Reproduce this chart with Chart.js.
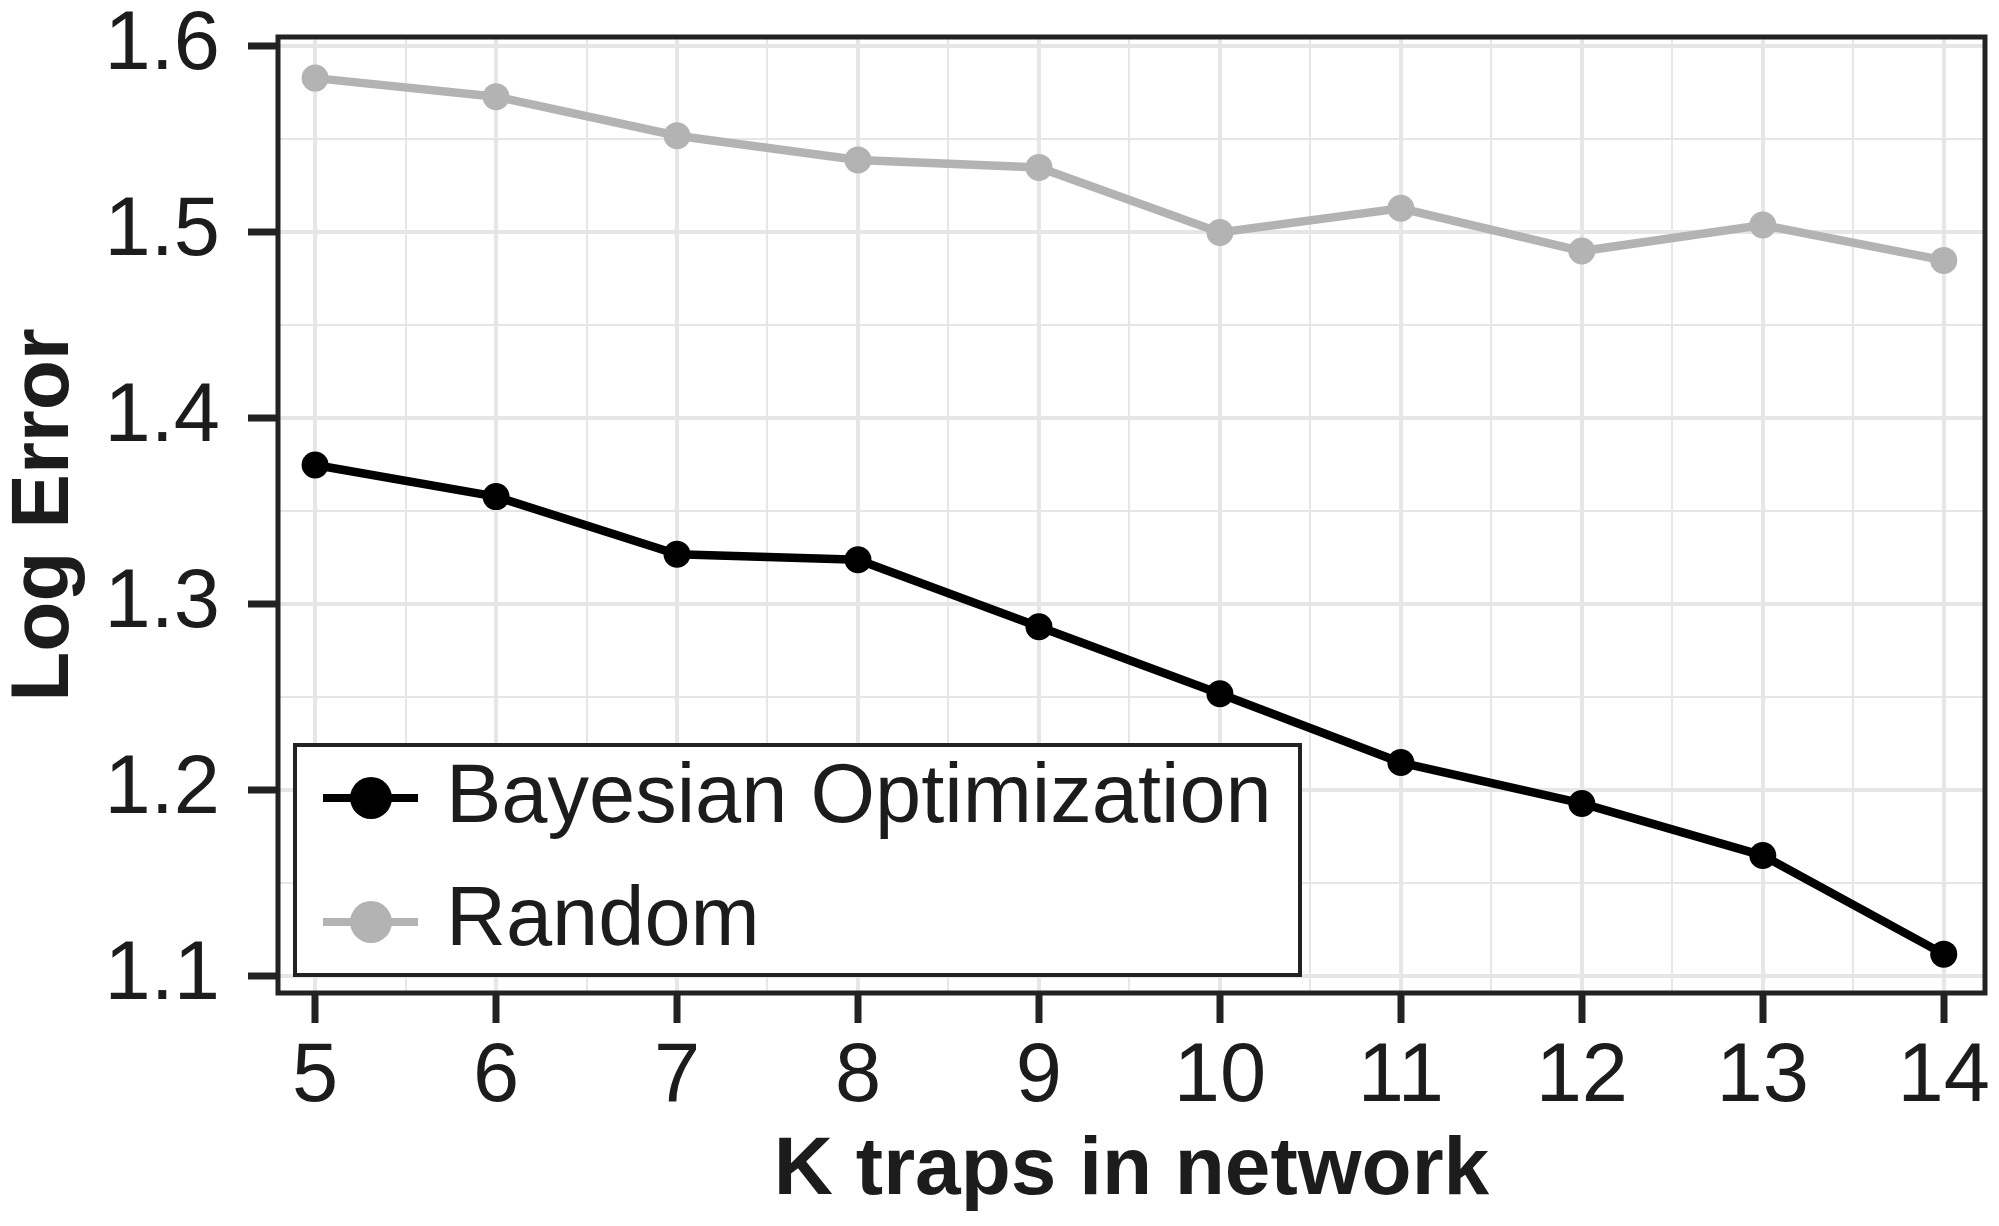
<!DOCTYPE html>
<html><head><meta charset="utf-8">
<script src="https://cdn.jsdelivr.net/npm/chart.js@4.4.0/dist/chart.umd.min.js"></script>
<style>html,body{margin:0;padding:0;background:#fff;} #wrap{width:1999px;height:1226px;}</style>
</head><body><div id="wrap"><canvas id="c" width="1999" height="1226"></canvas></div>
<script>
// ---- data ----
const kTraps = [5, 6, 7, 8, 9, 10, 11, 12, 13, 14];
const bayesian = [1.375, 1.358, 1.327, 1.324, 1.288, 1.252, 1.215, 1.193, 1.165, 1.112];
const random = [1.583, 1.573, 1.552, 1.539, 1.535, 1.500, 1.513, 1.490, 1.504, 1.485];
const yTicks = [1.1, 1.2, 1.3, 1.4, 1.5, 1.6];
const xTicks = [5, 6, 7, 8, 9, 10, 11, 12, 13, 14];
const seriesLabels = ['Bayesian Optimization', 'Random'];
const xTitle = 'K traps in network';
const yTitle = 'Log Error';

// ---- helpers ----
const mids = a => a.slice(1).map((v, i) => (v + a[i]) / 2);
const isMajor = (v, arr) => arr.some(m => Math.abs(m - v) < 1e-6);
const FONT = "'Liberation Sans', Arial, sans-serif";
const TEXT = '#1c1c1c';
const GRID = '#e6e6e6';

function tickBuilder(majors) {
  return scale => {
    const all = majors.concat(mids(majors)).sort((a, b) => a - b);
    scale.ticks = all.map(v => ({ value: v }));
  };
}
function gridOpts(majors) {
  return {
    drawOnChartArea: true,
    drawTicks: true,
    tickLength: 30,
    color: ctx => GRID,
    lineWidth: ctx => isMajor(ctx.tick.value, majors) ? 4 : 2,
    tickColor: ctx => isMajor(ctx.tick.value, majors) ? '#222' : 'rgba(0,0,0,0)',
    tickWidth: ctx => 7
  };
}

const framePlugin = {
  id: 'frame',
  afterDraw(chart) {
    const { ctx, chartArea: a } = chart;
    ctx.save();
    ctx.strokeStyle = '#222';
    ctx.lineWidth = 5;
    ctx.strokeRect(a.left, a.top, a.right - a.left, a.bottom - a.top);
    ctx.restore();
  }
};

const legendPlugin = {
  id: 'boxLegend',
  afterDraw(chart) {
    const { ctx, chartArea: a } = chart;
    const left = a.left + 17, bottom = a.bottom - 18;
    const w = 1005, h = 230, top = bottom - h;
    ctx.save();
    ctx.fillStyle = '#fff';
    ctx.fillRect(left, top, w, h);
    ctx.strokeStyle = '#222';
    ctx.lineWidth = 4;
    ctx.strokeRect(left, top, w, h);
    chart.data.datasets.forEach((ds, i) => {
      const cy = top + 53 + i * 124;
      ctx.strokeStyle = ds.borderColor;
      ctx.lineWidth = 8;
      ctx.beginPath();
      ctx.moveTo(left + 28, cy);
      ctx.lineTo(left + 123, cy);
      ctx.stroke();
      ctx.fillStyle = ds.pointBackgroundColor;
      ctx.beginPath();
      ctx.arc(left + 76, cy, 21, 0, Math.PI * 2);
      ctx.fill();
      ctx.fillStyle = TEXT;
      ctx.font = `83px ${FONT}`;
      ctx.textBaseline = 'alphabetic';
      ctx.textAlign = 'left';
      ctx.fillText(ds.label, left + 151, top + 77 + i * 123);
    });
    ctx.restore();
  }
};

const toPts = ys => kTraps.map((k, i) => ({ x: k, y: ys[i] }));

new Chart(document.getElementById('c'), {
  type: 'line',
  data: {
    datasets: [
      { label: seriesLabels[0], data: toPts(bayesian), borderColor: '#000', backgroundColor: '#000',
        pointBackgroundColor: '#000', pointBorderWidth: 0, pointRadius: 13.5, borderWidth: 8.5, tension: 0 },
      { label: seriesLabels[1], data: toPts(random), borderColor: '#b3b3b3', backgroundColor: '#b3b3b3',
        pointBackgroundColor: '#b3b3b3', pointBorderWidth: 0, pointRadius: 13.5, borderWidth: 8.5, tension: 0 }
    ]
  },
  options: {
    responsive: false,
    devicePixelRatio: 1,
    animation: false,
    layout: { padding: { left: 0, top: 37, right: 14, bottom: 0 } },
    plugins: { legend: { display: false }, tooltip: { enabled: false } },
    scales: {
      x: {
        type: 'linear', min: 4.795, max: 14.228,
        afterBuildTicks: tickBuilder(xTicks),
        afterFit: s => { s.height = 233; s.paddingLeft = 0; s.paddingRight = 0; },
        grid: gridOpts(xTicks),
        border: { display: false },
        ticks: {
          autoSkip: false, maxRotation: 0, padding: 14, color: TEXT,
          font: { family: FONT, size: 83, lineHeight: 1 },
          callback: v => isMajor(v, xTicks) ? String(Math.round(v)) : ''
        },
        title: { display: true, text: xTitle, color: TEXT, padding: { top: 0, bottom: 14 },
          font: { family: FONT, size: 82, weight: 'bold', lineHeight: 1 } }
      },
      y: {
        type: 'linear', min: 1.0911, max: 1.6051,
        afterBuildTicks: tickBuilder(yTicks),
        afterFit: s => { s.width = 278; s.paddingTop = 0; s.paddingBottom = 0; },
        grid: gridOpts(yTicks),
        border: { display: false },
        ticks: {
          autoSkip: false, padding: 28, color: TEXT,
          font: { family: FONT, size: 83, lineHeight: 1 },
          callback: v => isMajor(v, yTicks) ? v.toFixed(1) : ''
        },
        title: { display: true, text: yTitle, color: TEXT, padding: { top: 4, bottom: 0 },
          font: { family: FONT, size: 82, weight: 'bold', lineHeight: 1 } }
      }
    }
  },
  plugins: [framePlugin, legendPlugin]
});
</script>
</body></html>
